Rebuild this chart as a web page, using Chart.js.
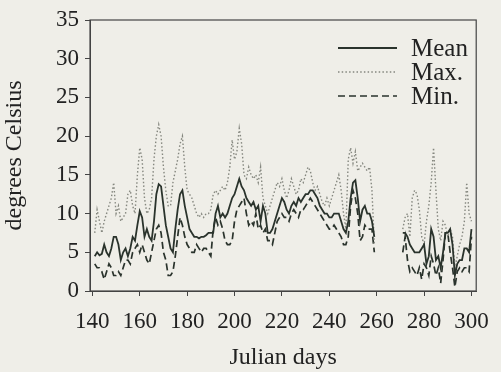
<!DOCTYPE html>
<html lang="en">
<head>
<meta charset="UTF-8">
<title>Julian days temperature</title>
<script src="https://cdn.jsdelivr.net/npm/chart.js"></script>
<style>
  html, body { margin: 0; padding: 0; background: #efeee8; }
  #wrap { width: 501px; height: 372px; }
</style>
</head>
<body>
<div id="wrap"><canvas id="myChart" width="501" height="372"></canvas></div>
<script>
// days 141-259 and 271-300 (no data in between)
const daysA = [141,142,143,144,145,146,147,148,149,150,151,152,153,154,155,156,157,158,159,160,
  161,162,163,164,165,166,167,168,169,170,171,172,173,174,175,176,177,178,179,180,
  181,182,183,184,185,186,187,188,189,190,191,192,193,194,195,196,197,198,199,200,
  201,202,203,204,205,206,207,208,209,210,211,212,213,214,215,216,217,218,219,220,
  221,222,223,224,225,226,227,228,229,230,231,232,233,234,235,236,237,238,239,240,
  241,242,243,244,245,246,247,248,249,250,251,252,253,254,255,256,257,258,259];
const daysB = [271,272,273,274,275,276,277,278,279,280,281,282,283,284,285,286,287,288,289,290,
  291,292,293,294,295,296,297,298,299,300];

const meanA = [4.5,5,4.6,4.8,6,5,4.5,5.5,7,7, 6,4,5,5.5,4.5,5.5,7,6.5,8.5,10.3,
  9.5,7,8,7,6.5,9,12.5,13.8,13.5,11, 8.5,7,5.5,5,8,10.5,12.5,13,11,9.5,
  8,7.5,7,7,6.8,7,7,7.2,7.5,7.5, 7.5,10,11,9.5,10,9.5,10,11,12,12.5,
  13.5,14.5,13.5,13,12,11.5,11,11.5,10.5,11, 9,11,10,7.5,7.5,8,9,10,11,12,
  11.5,10.5,10,11,11.5,11,12,11.5,12,12.5, 12.5,13,13,12.5,12,11,10.5,10,10,9.5,
  9.5,10,10,10,9,8,7.5,9,12,14, 14.3,12,9,10.5,11,10,10,9,7];
const meanB = [7.5,7.5,7,6,5.5,5,5,5,5.5,6, 3.5,4.5,8,7,4,4.5,3,5,7.5,7.5,
  8,6,2,3.5,4,4,5.5,5.5,5,8];

const maxA = [7.5,10.5,9,7.5,9,10,11,12,14,10, 11,9,9.5,10,12.5,13,11,10,15,18.5,
  17,12,10,10.5,12,17,20,21.5,20,16, 13,11,11,14,15.5,17,19,20,16,13,
  12.5,12,11,10,9.5,10,9.5,10,10,10.5, 12.5,13,12.5,13,13.5,13,14,16,19.5,17,
  18,21,19,15,14.5,16,15,14.5,15,14, 16,12,11,10,11,12,13,14,13.5,14.5,
  13,12,13,14.5,13.5,12.5,13,14.5,14,15, 16,15.5,14,13,13.5,12.5,11.5,11,12,11,
  12,13,14,15,13,10,8,17,18.5,16.5, 18,15.5,16,16.5,16,15.5,16,13,6];
const maxB = [8,9.5,10,7,12,13,12.5,10.5,7,6, 9,11,14,18.5,13,8,6.5,9,8.5,7,
  8,7,3,4.5,6,7,9,14,10,9];

const minA = [3.5,3,3,2.5,1.5,2.5,3.5,3,2,2, 2.5,2,3,4,4,3.5,5,5.5,6,5,
  6,5,4,3.5,5,6.5,8,8.5,7.5,5, 4,2,2,2.5,4.5,7,9.5,8.5,7,6,
  5.5,5,5,6,5.5,5,5.5,5.5,5,4.5, 8,9.5,8.5,9,8,6.5,6,6,6.5,9,
  10.5,11,11.5,12,10,8.5,9,8.5,10,8, 8.5,7.5,8,6.5,6.5,6,7.5,9,9.5,10,
  9.5,9.5,9,10,10.5,10,9.5,10.5,10.5,11, 11.5,12,11.5,11,10.5,10,9.5,9,8.5,8,
  8,8.5,8,7.5,7,6,6,7,11,13, 12,10,6.5,7,8.5,8,8,8,5];
const minB = [5,7,4,2.5,3,2.5,2,3,1.5,3.5, 3,2,4.5,3.5,2,3,1,4,7.5,7.5,
  5,3,0.5,2.5,3,2.5,3,3,2.5,7];

const xTicks = [140,160,180,200,220,240,260,280,300];
const yTicks = [0,5,10,15,20,25,30,35];
const seriesNames = ['Mean','Max.','Min.'];

function pts(a, b) {
  // null point between the two periods breaks the line
  const out = daysA.map((d, i) => ({ x: d, y: a[i] }));
  out.push({ x: 265, y: null });
  daysB.forEach((d, i) => out.push({ x: d, y: b[i] }));
  return out;
}

const ink = '#2a332c';

const legendInside = {
  id: 'legendInside',
  beforeDraw(chart) {
    const c = chart.ctx;
    c.save();
    c.fillStyle = '#efeee8';
    c.fillRect(0, 0, chart.width, chart.height);
    c.restore();
  },
  afterDraw(chart) {
    const c = chart.ctx;
    const a = chart.chartArea;
    c.save();
    c.strokeStyle = '#444';
    c.lineWidth = 1.2;
    c.strokeRect(a.left, a.top, a.right - a.left, a.bottom - a.top);
    c.font = '25px "Liberation Serif"';
    c.textBaseline = 'middle';
    c.fillStyle = '#222';
    chart.data.datasets.forEach((ds, i) => {
      const y = 48 + i * 24;
      c.beginPath();
      c.strokeStyle = ds.borderColor;
      c.lineWidth = ds.borderWidth;
      c.setLineDash(ds.borderDash || []);
      c.moveTo(338, y);
      c.lineTo(397, y);
      c.stroke();
      c.setLineDash([]);
      c.fillText(ds.label, 411, y + 1);
    });
    c.restore();
  }
};

new Chart(document.getElementById('myChart'), {
  type: 'line',
  data: {
    datasets: [
      { label: seriesNames[0], data: pts(meanA, meanB), borderColor: ink, borderWidth: 1.8, borderDash: [] },
      { label: seriesNames[1], data: pts(maxA, maxB), borderColor: '#85877f', borderWidth: 1.4, borderDash: [1.5, 2.2] },
      { label: seriesNames[2], data: pts(minA, minB), borderColor: ink, borderWidth: 1.7, borderDash: [7, 4] }
    ]
  },
  options: {
    responsive: false,
    animation: false,
    spanGaps: false,
    elements: { point: { radius: 0 }, line: { tension: 0 } },
    layout: { padding: { top: 20, right: 23, left: 0, bottom: 0 } },
    plugins: { legend: { display: false }, tooltip: { enabled: false } },
    scales: {
      x: {
        type: 'linear',
        min: 139, max: 302,
        afterBuildTicks: s => { s.ticks = xTicks.map(v => ({ value: v })); },
        afterFit: s => { s.height = 81; },
        grid: { drawOnChartArea: false, tickLength: 5, color: '#444' },
        border: { color: '#444' },
        ticks: { color: '#222', font: { family: 'Liberation Serif', size: 23 }, padding: 12, maxRotation: 0, autoSkip: false },
        title: { display: true, text: 'Julian days', color: '#222', font: { family: 'Liberation Serif', size: 24 }, padding: { top: 6, bottom: 0 } }
      },
      y: {
        min: 0, max: 35,
        afterBuildTicks: s => { s.ticks = yTicks.map(v => ({ value: v })); },
        afterFit: s => { s.width = 90; },
        grid: { drawOnChartArea: false, tickLength: 5, color: '#444' },
        border: { color: '#444' },
        ticks: { color: '#222', font: { family: 'Liberation Serif', size: 23 }, padding: 6 },
        title: { display: true, text: 'degrees Celsius', color: '#222', font: { family: 'Liberation Serif', size: 24 }, padding: { top: 0, bottom: 4 } }
      }
    }
  },
  plugins: [legendInside]
});
</script>
</body>
</html>
